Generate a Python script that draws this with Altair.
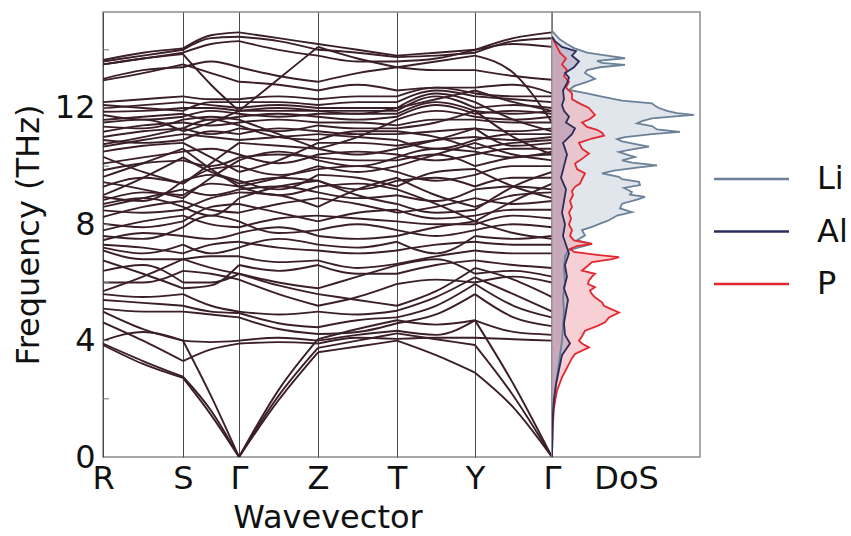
import altair as alt
import pandas as pd

FONT = "DejaVu Sans"
TXT = "#111111"

# path coordinate of each sampled wavevector (high-symmetry points + segment midpoints)
kpos = [0, 40, 80, 108, 136, 175.5, 215, 254.5, 294, 333, 372, 410.5, 449]
hs_pos = [0, 80, 136, 215, 294, 372, 449]
hs_lab = ["R", "S", "Γ", "Z", "T", "Y", "Γ"]
y_ticks = [0, 4, 8, 12]
minor_ticks = [2, 4, 6, 8, 10, 12, 14]

# phonon branches (THz) at the 13 sampled wavevectors
bands = [
    [3.85, 3.2, 2.72, 1.45, 0.0, 1.95, 3.6, 3.8, 4.0, 3.5, 2.9, 1.7, 0.0],
    [3.9, 3.3, 2.76, 1.6, 0.0, 2.1, 3.75, 4.0, 4.25, 4.05, 3.85, 2.1, 0.0],
    [4.0, 4.3, 4.0, 2.1, 0.0, 2.3, 4.05, 4.4, 4.7, 4.55, 4.7, 2.5, 0.0],
    [4.63, 4.0, 3.3, 3.7, 3.9, 3.95, 3.9, 4.1, 4.06, 4.1, 4.1, 4.05, 4.0],
    [5.0, 4.4, 4.0, 3.95, 4.0, 4.1, 4.0, 4.2, 4.34, 4.2, 4.7, 4.3, 4.2],
    [5.1, 5.0, 5.0, 4.9, 4.8, 4.4, 4.23, 4.3, 4.6, 4.9, 5.6, 4.8, 4.5],
    [5.4, 5.3, 5.2, 5.0, 4.95, 4.6, 4.46, 4.7, 4.8, 5.2, 5.95, 5.2, 4.8],
    [5.6, 5.5, 5.6, 5.2, 5.0, 4.9, 5.0, 4.9, 5.03, 5.5, 6.18, 5.6, 5.0],
    [5.7, 6.2, 6.8, 6.5, 6.3, 5.9, 5.6, 5.4, 5.2, 5.7, 6.5, 6.1, 5.5],
    [6.0, 6.0, 6.4, 6.3, 6.1, 5.6, 5.2, 5.5, 5.95, 6.1, 6.0, 6.2, 6.0],
    [6.4, 6.6, 6.0, 6.0, 6.3, 6.0, 5.8, 6.2, 6.6, 6.8, 6.3, 6.4, 6.2],
    [6.76, 6.3, 5.8, 5.9, 6.6, 6.4, 6.6, 6.3, 6.3, 6.6, 6.76, 6.6, 6.5],
    [7.1, 6.8, 6.8, 6.9, 6.9, 6.7, 6.76, 6.5, 6.64, 6.9, 7.1, 7.0, 7.0],
    [7.2, 7.0, 7.3, 7.0, 7.2, 7.5, 7.3, 7.2, 7.4, 7.0, 7.6, 7.5, 7.6],
    [7.3, 7.2, 7.0, 7.3, 7.4, 7.2, 7.1, 7.0, 7.1, 7.3, 7.4, 7.3, 7.3],
    [7.45, 7.7, 7.6, 7.5, 7.7, 7.9, 7.6, 7.5, 7.6, 7.9, 8.1, 7.7, 7.5],
    [7.6, 7.5, 7.9, 8.3, 8.1, 7.7, 7.8, 8.0, 7.8, 7.6, 7.8, 8.0, 7.9],
    [7.79, 8.1, 8.3, 8.0, 7.9, 8.2, 8.3, 8.2, 8.1, 8.0, 8.0, 8.3, 8.2],
    [8.02, 7.9, 8.1, 8.6, 8.7, 8.4, 8.1, 8.4, 8.5, 8.2, 8.3, 8.5, 8.5],
    [8.25, 8.6, 8.8, 8.5, 8.4, 8.7, 8.9, 8.7, 8.4, 8.6, 8.9, 8.7, 8.8],
    [8.48, 8.4, 8.5, 8.9, 9.1, 9.0, 8.6, 9.2, 9.6, 9.0, 8.6, 9.0, 9.1],
    [8.6, 8.9, 9.2, 9.0, 9.2, 9.3, 9.1, 8.9, 9.0, 8.8, 9.2, 9.3, 9.2],
    [8.7, 8.9, 8.6, 8.3, 8.9, 9.3, 9.5, 9.0, 8.7, 8.4, 8.5, 9.3, 9.8],
    [8.83, 9.1, 9.0, 9.4, 9.3, 9.0, 9.3, 9.4, 9.2, 8.7, 8.1, 8.8, 9.4],
    [8.94, 8.8, 9.5, 9.7, 9.4, 9.6, 9.5, 9.2, 9.5, 9.6, 9.3, 9.6, 9.6],
    [9.0, 9.6, 10.3, 9.8, 9.5, 9.2, 9.7, 9.6, 9.3, 9.8, 9.9, 9.3, 8.9],
    [9.29, 9.6, 9.4, 9.9, 10.0, 9.7, 9.9, 10.0, 9.8, 9.5, 9.7, 10.0, 10.0],
    [9.45, 9.2, 8.9, 9.6, 10.2, 10.5, 10.2, 10.0, 10.3, 10.6, 10.5, 10.3, 10.5],
    [9.63, 10.1, 10.6, 9.9, 9.3, 9.6, 10.0, 9.8, 10.0, 10.4, 10.8, 10.4, 10.2],
    [9.86, 10.1, 10.2, 10.0, 10.3, 10.4, 10.3, 10.2, 10.2, 10.4, 10.0, 10.3, 10.4],
    [10.09, 10.3, 10.5, 10.6, 10.4, 10.1, 10.4, 10.5, 10.4, 10.2, 10.4, 10.6, 10.6],
    [10.32, 9.8, 9.4, 10.1, 10.8, 10.7, 10.6, 10.4, 10.6, 10.9, 11.3, 10.7, 10.8],
    [10.5, 10.7, 10.8, 10.3, 9.8, 10.2, 10.8, 10.8, 10.7, 10.9, 11.0, 10.9, 11.0],
    [10.67, 10.9, 11.1, 11.0, 10.9, 11.0, 11.1, 11.0, 10.9, 10.6, 10.9, 11.1, 11.1],
    [10.75, 11.0, 11.3, 11.6, 11.4, 11.0, 10.9, 11.2, 11.2, 11.0, 10.6, 10.8, 10.9],
    [10.9, 10.8, 10.9, 11.2, 11.1, 11.3, 11.2, 11.1, 11.1, 11.2, 11.3, 11.2, 11.3],
    [11.0, 11.2, 11.3, 11.1, 11.3, 11.2, 11.4, 11.3, 11.3, 11.5, 11.9, 11.0, 10.4],
    [11.18, 11.4, 11.5, 11.4, 11.5, 11.6, 11.5, 11.5, 11.4, 11.6, 11.6, 11.5, 11.5],
    [11.36, 11.3, 11.6, 11.7, 11.6, 11.1, 10.6, 11.0, 11.6, 11.9, 11.7, 11.6, 11.7],
    [11.5, 11.6, 11.2, 11.5, 11.9, 12.0, 11.9, 11.8, 12.0, 12.3, 12.6, 12.2, 11.9],
    [11.59, 11.7, 11.8, 11.6, 11.7, 11.8, 11.7, 11.6, 11.7, 12.1, 11.8, 11.9, 11.8],
    [11.76, 11.6, 11.7, 11.9, 11.8, 11.7, 11.8, 11.8, 11.8, 12.2, 11.9, 11.8, 11.9],
    [11.87, 11.9, 12.0, 12.0, 11.9, 11.9, 11.9, 11.9, 11.9, 12.4, 12.0, 12.1, 12.0],
    [11.99, 12.1, 12.2, 12.1, 12.0, 12.1, 12.0, 12.0, 12.0, 12.5, 12.2, 11.6, 11.2],
    [12.1, 12.0, 11.9, 12.2, 12.2, 12.2, 12.1, 12.2, 12.2, 12.6, 12.4, 12.3, 12.2],
    [12.2, 12.3, 12.4, 12.3, 12.3, 12.4, 12.3, 12.4, 12.4, 12.7, 12.5, 12.4, 12.4],
    [12.95, 13.2, 13.5, 13.2, 12.9, 12.8, 12.6, 12.8, 12.6, 12.7, 12.7, 12.8, 12.5],
    [13.0, 13.3, 13.4, 13.6, 13.4, 13.1, 12.9, 13.2, 13.4, 13.3, 13.3, 13.1, 12.97],
    [13.5, 13.7, 13.85, 12.8, 11.9, 13.0, 14.1, 13.7, 13.4, 13.6, 13.8, 13.2, 11.5],
    [13.5, 13.7, 13.9, 14.2, 14.3, 14.0, 13.8, 13.6, 13.6, 13.7, 14.0, 14.2, 14.1],
    [13.6, 13.8, 14.0, 14.4, 14.45, 14.3, 14.0, 13.9, 13.75, 13.8, 13.9, 14.3, 14.4],
    [13.65, 13.9, 14.05, 14.5, 14.6, 14.4, 14.2, 14.0, 13.8, 13.9, 14.0, 14.4, 14.6],
]

# projected density of states (arb. units)
li_f = [0.0, 1.0, 1.8, 2.5, 3.0, 3.5, 4.0, 4.5, 5.0, 5.5, 6.0, 6.5, 6.9, 7.1, 7.33,
        7.45, 7.62, 7.8, 7.91, 8.05, 8.14, 8.3, 8.42, 8.55, 8.71, 8.85, 8.94, 9.02,
        9.11, 9.25, 9.35, 9.46, 9.55, 9.63, 9.75, 9.85, 9.95, 10.03, 10.12, 10.2,
        10.32, 10.4, 10.49, 10.58, 10.67, 10.75, 10.85, 10.93, 11.0, 11.1, 11.18,
        11.26, 11.38, 11.47, 11.55, 11.64, 11.7, 11.76, 11.82, 11.9, 12.0, 12.08,
        12.16, 12.25, 12.39, 12.5, 12.62, 12.75, 12.9, 13.0, 13.1, 13.2, 13.3, 13.4,
        13.48, 13.55, 13.62, 13.71, 13.8, 13.9, 14.06, 14.2, 14.35, 14.5, 14.65]
li_d = [0, 0.5, 1.5, 4, 6, 8, 10, 11, 12, 11, 13, 12, 13, 16, 40, 25, 33, 30, 40, 50,
        57, 65, 80, 68, 70, 85, 93, 78, 80, 72, 88, 87, 70, 67, 50, 62, 85, 105, 80,
        70, 83, 75, 67, 80, 97, 85, 70, 65, 73, 100, 128, 105, 100, 85, 90, 100, 120,
        142, 125, 115, 107, 103, 100, 70, 50, 35, 17, 22, 35, 43, 38, 33, 35, 48, 73,
        50, 45, 73, 55, 35, 22, 15, 8, 4, 0]
al_f = [0.0, 1.0, 1.5, 2.0, 2.5, 3.0, 3.5, 3.9, 4.2, 4.6, 5.0, 5.4, 5.8, 6.2, 6.6,
        7.0, 7.3, 7.6, 8.0, 8.4, 8.8, 9.2, 9.6, 10.0, 10.4, 10.8, 11.1, 11.3, 11.5,
        11.7, 11.9, 12.1, 12.3, 12.6, 12.85, 13.05, 13.2, 13.4, 13.6, 13.8, 13.95,
        14.1, 14.3, 14.45]
al_d = [0, 0.5, 1, 2, 4, 7, 10, 18, 13, 12, 14, 16, 12, 15, 13, 17, 14, 11, 13, 10,
        12, 14, 9, 12, 15, 11, 20, 23, 14, 17, 12, 10, 12, 11, 15, 17, 13, 22, 27, 20,
        24, 10, 3, 0]
p_f = [0.0, 0.9, 1.7, 2.28, 2.74, 3.0, 3.2, 3.4, 3.54, 3.77, 3.9, 4.0, 4.15, 4.34,
       4.5, 4.63, 4.8, 4.97, 5.1, 5.2, 5.32, 5.49, 5.6, 5.72, 5.84, 5.95, 6.07, 6.2,
       6.3, 6.41, 6.55, 6.7, 6.8, 6.87, 6.95, 7.05, 7.15, 7.25, 7.33, 7.45, 7.6, 7.8,
       8.0, 8.2, 8.4, 8.6, 8.8, 9.0, 9.15, 9.29, 9.4, 9.55, 9.75, 9.9, 10.09, 10.25,
       10.43, 10.6, 10.8, 10.95, 11.05, 11.15, 11.25, 11.35, 11.5, 11.62, 11.76,
       11.88, 12.0, 12.15, 12.3, 12.5, 12.7, 12.9, 13.1, 13.3, 13.5, 13.7, 13.9,
       14.1, 14.3, 14.45]
p_d = [0, 0.5, 2, 5, 10, 14, 17, 20, 23, 37, 30, 27, 30, 33, 45, 53, 57, 67, 58, 52,
       50, 43, 40, 38, 43, 36, 37, 40, 43, 30, 35, 40, 60, 67, 45, 22, 18, 25, 40, 22,
       18, 20, 17, 19, 17, 20, 18, 21, 20, 23, 28, 30, 33, 25, 23, 30, 37, 30, 27, 40,
       52, 50, 45, 35, 30, 38, 43, 40, 37, 28, 20, 20, 14, 17, 12, 15, 10, 14, 8, 5,
       2, 0]

species = ["Li", "Al", "P"]
line_colors = ["#6b8198", "#2b2c5a", "#e3262f"]

# ---------------- band structure panel ----------------
# each branch is drawn segment by segment (kinks allowed at high-symmetry points)
rows = []
for i, b in enumerate(bands):
    for s in range(6):
        for j in (2 * s, 2 * s + 1, 2 * s + 2):
            rows.append({"seg": f"{i}-{s}", "k": kpos[j], "f": b[j]})
band_df = pd.DataFrame(rows)

label_expr = " : ".join(
    f"datum.value == {p} ? '{l}'" for p, l in zip(hs_pos, hs_lab)) + " : ''"

yscale = alt.Scale(domain=[0, 15.3], nice=False, zero=True)

xb = alt.X(
    "k:Q",
    scale=alt.Scale(domain=[0, 449], nice=False, zero=False),
    axis=alt.Axis(values=hs_pos, labelExpr=label_expr, title="Wavevector",
                  grid=True, gridColor="#4a4a4a", gridWidth=1, ticks=False,
                  domain=False, labelFlush=False, labelOverlap=False,
                  labelFont=FONT, labelFontSize=32, labelColor=TXT, labelPadding=6,
                  titleFont=FONT, titleFontSize=32, titleFontWeight="normal",
                  titleColor=TXT, titlePadding=8),
)
yb = alt.Y(
    "f:Q", scale=yscale, title="Frequency (THz)",
    axis=alt.Axis(values=y_ticks, grid=False, ticks=False, domain=False,
                  labelFont=FONT, labelFontSize=32, labelColor=TXT, labelPadding=8,
                  titleFont=FONT, titleFontSize=32, titleFontWeight="normal",
                  titleColor=TXT, titlePadding=9),
)

band_lines = alt.Chart(band_df).mark_line(
    interpolate="monotone", color="#3b1f27", strokeWidth=1.9, clip=True
).encode(x=xb, y=yb, detail="seg:N")

tick_marks = alt.Chart(pd.DataFrame({"f": minor_ticks})).mark_rule(
    color="#777777", strokeWidth=1
).encode(y=alt.Y("f:Q", scale=yscale, title="Frequency (THz)"),
         x=alt.value(0), x2=alt.value(6))

band_chart = alt.layer(band_lines, tick_marks).properties(width=449, height=445)

# ---------------- DoS panel ----------------
xd = alt.X("d:Q", scale=alt.Scale(domain=[0, 148], nice=False, zero=True),
           axis=alt.Axis(title="DoS", labels=False, ticks=False, domain=False,
                         grid=False, titleFont=FONT, titleFontSize=32,
                         titleFontWeight="normal", titleColor=TXT, titlePadding=6))
yd = alt.Y("f:Q", scale=yscale, axis=None)


def dos_area(fr, dv, fill, op):
    return alt.Chart(pd.DataFrame({"f": fr, "d": dv})).mark_area(
        orient="horizontal", color=fill, opacity=op, clip=True
    ).encode(x=xd, y=yd)


def dos_line(fr, dv, color):
    return alt.Chart(pd.DataFrame({"f": fr, "d": dv})).mark_line(
        color=color, strokeWidth=1.8, clip=True
    ).encode(x=xd, y=yd, order=alt.Order("f:Q"))


dos_chart = alt.layer(
    dos_area(li_f, li_d, "#cdd6e1", 0.6),
    dos_area(p_f, p_d, "#f0aab3", 0.55),
    dos_area(al_f, al_d, "#7d6b94", 0.3),
    dos_line(li_f, li_d, line_colors[0]),
    dos_line(p_f, p_d, line_colors[2]),
    dos_line(al_f, al_d, line_colors[1]),
).properties(width=148, height=445)

# ---------------- legend panel ----------------
leg_df = pd.DataFrame({"name": species})
ly = alt.Y("name:N", scale=alt.Scale(type="point", domain=species, range=[167, 272],
                                     padding=0), axis=None)
leg_rule = alt.Chart(leg_df).mark_rule(strokeWidth=2.5).encode(
    y=ly, x=alt.value(14), x2=alt.value(89),
    color=alt.Color("name:N", scale=alt.Scale(domain=species, range=line_colors),
                    legend=None))
leg_text = alt.Chart(leg_df).mark_text(
    align="left", baseline="middle", font=FONT, fontSize=32, color=TXT
).encode(y=ly, x=alt.value(117), text="name:N")
legend = alt.layer(leg_rule, leg_text).properties(
    width=150, height=445, view=alt.ViewBackground(strokeOpacity=0))

chart = alt.hconcat(band_chart, dos_chart, legend, spacing=0, bounds="flush").properties(
    padding={"left": 11, "top": 11, "right": 0, "bottom": 0}
).configure_view(stroke="#8c8c8c", strokeWidth=1.5)

chart.save("out.html", embed_options={"renderer": "svg", "actions": False})
